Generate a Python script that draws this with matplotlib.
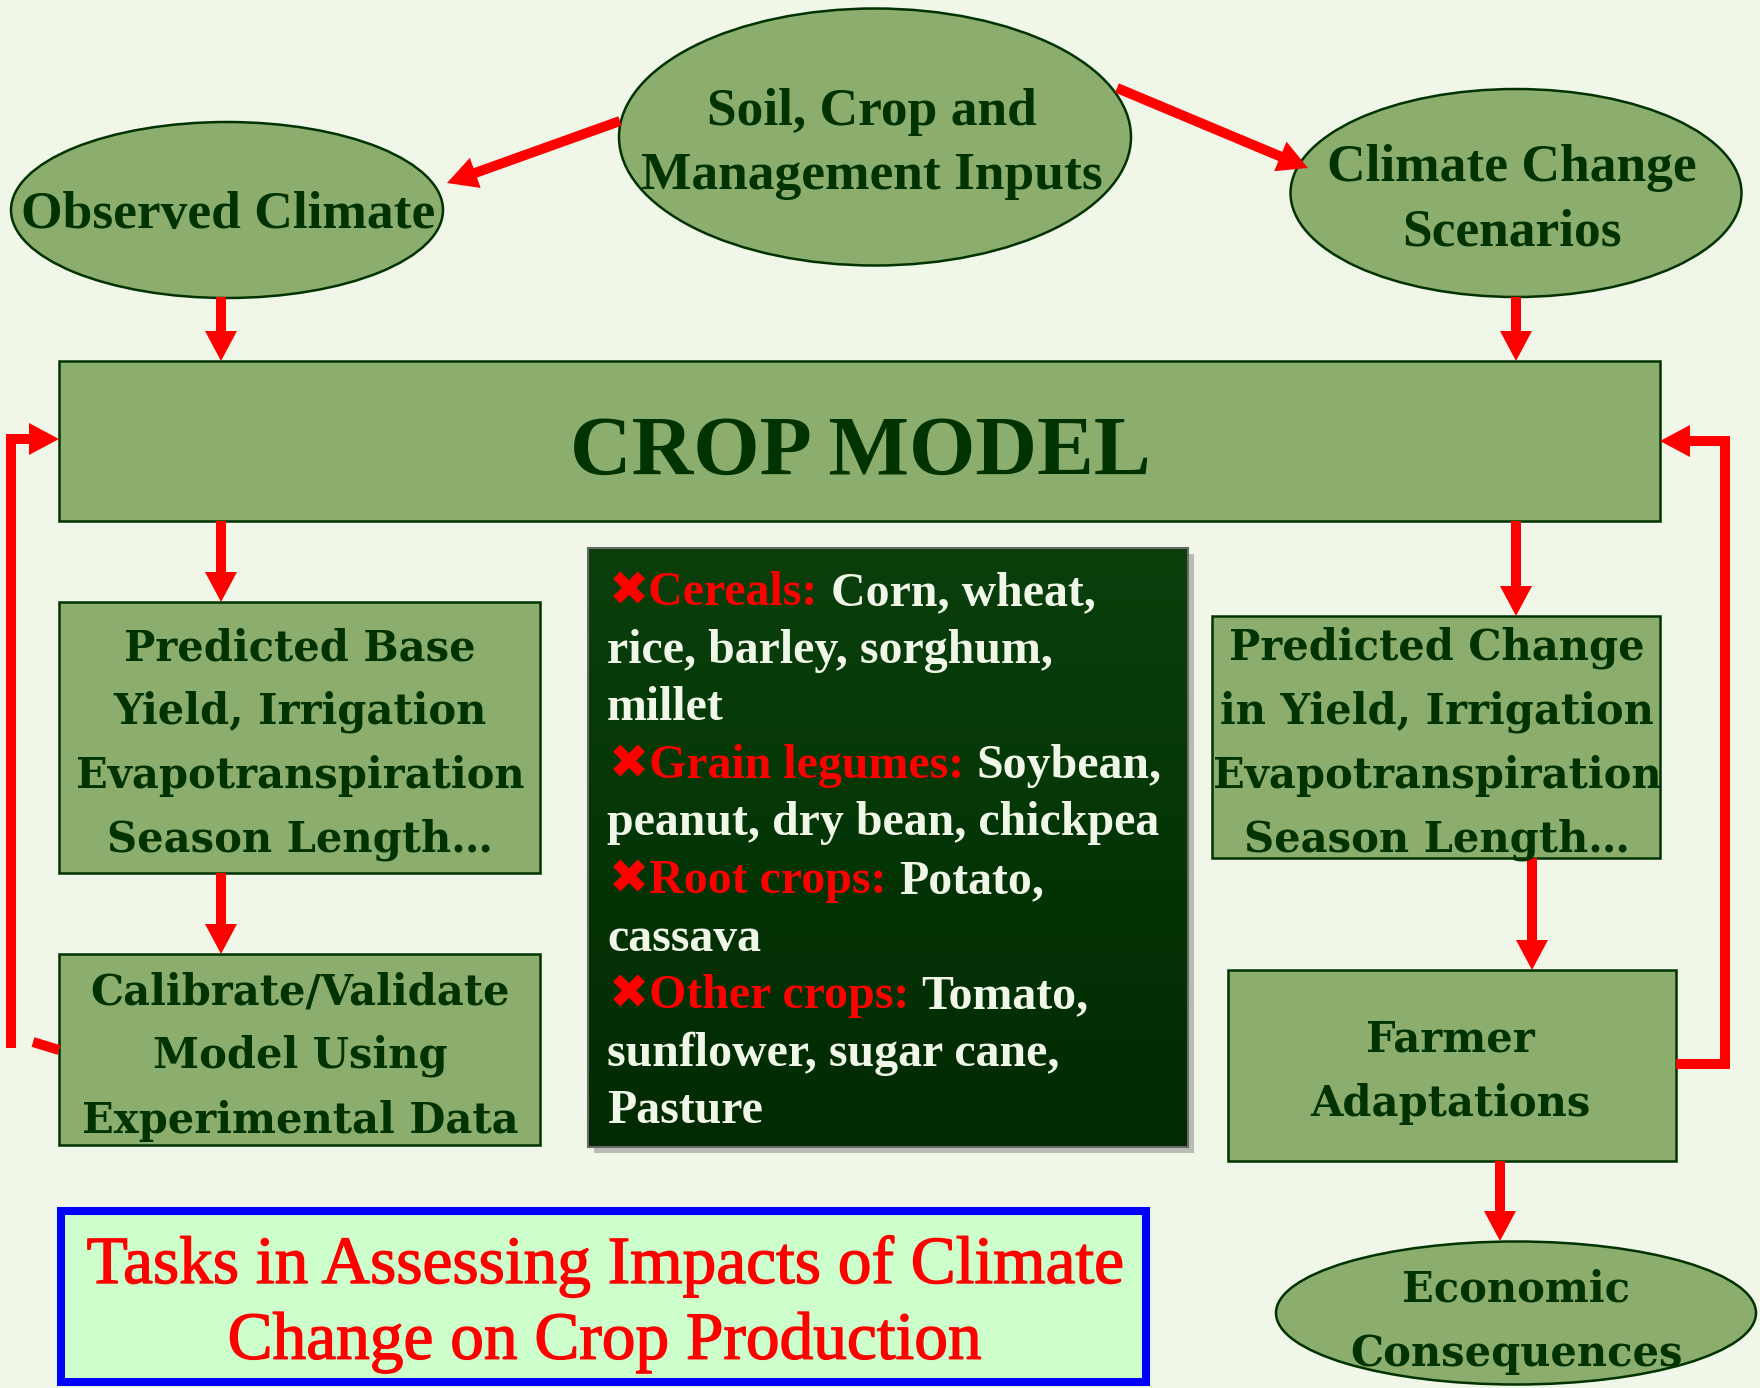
import matplotlib
matplotlib.use("Agg")
import matplotlib.patheffects as pe
import matplotlib.pyplot as plt
import numpy as np
from matplotlib.colors import LinearSegmentedColormap
from matplotlib.patches import Ellipse, Rectangle

# ── texts of the diagram ────────────────────────────────────────────────────
soil_lines = ["Soil, Crop and", "Management Inputs"]
observed_lines = ["Observed Climate"]
scenario_lines = ["Climate Change", "Scenarios"]
model_lines = ["CROP MODEL"]
base_lines = ["Predicted Base", "Yield, Irrigation", "Evapotranspiration",
              "Season Length\u2026"]
calib_lines = ["Calibrate/Validate", "Model Using", "Experimental Data"]
change_lines = ["Predicted Change", "in Yield, Irrigation", "Evapotranspiration",
                "Season Length\u2026"]
farmer_lines = ["Farmer", "Adaptations"]
econ_lines = ["Economic", "Consequences"]
title_lines = ["Tasks in Assessing Impacts of Climate", "Change on Crop Production"]

crop_groups = ["Cereals:", "Grain legumes:", "Root crops:", "Other crops:"]
crop_members = [
    ["Corn, wheat,", "rice, barley, sorghum,", "millet"],
    ["Soybean,", "peanut, dry bean, chickpea"],
    ["Potato,", "cassava"],
    ["Tomato,", "sunflower, sugar cane,", "Pasture"],
]

# ── colours ─────────────────────────────────────────────────────────────────
BG = "#f0f7e8"
NODE = "#8bad6d"
EDGE = "#003300"
TXT = "#003300"
RED = "#ff0000"
WHITE = "#f0f7e8"

W, H = 1760, 1388
fig = plt.figure(figsize=(W / 100, H / 100), dpi=100)
fig.patch.set_facecolor(BG)
ax = fig.add_axes([0, 0, 1, 1])
ax.set_facecolor(BG)
ax.axis("off")

TIMES = "Liberation Serif"
WIDE = "DejaVu Serif"


def put_lines(cx, ys, lines, dy=4, **kw):
    for y, s in zip(ys, lines):
        ax.text(cx, y + dy, s, ha="center", va="center", zorder=5, **kw)


def box(x0, y0, x1, y1):
    ax.add_patch(Rectangle((x0, y0), x1 - x0, y1 - y0, fc=NODE, ec=EDGE,
                           lw=1.8, zorder=3))


def oval(cx, cy, w, h):
    ax.add_patch(Ellipse((cx, cy), w, h, fc=NODE, ec=EDGE, lw=1.8, zorder=3))


def arrow(x0, y0, x1, y1):
    ax.arrow(x0, y0, x1 - x0, y1 - y0, width=10, head_width=32,
             head_length=30, length_includes_head=True, fc=RED, ec=RED,
             lw=0, zorder=4)


# ── top ovals ───────────────────────────────────────────────────────────────
oval(875, 137, 512, 257)
put_lines(872, [108, 172], soil_lines, family=TIMES, weight="bold",
          size=38.5, color=TXT)
oval(227, 210, 432, 176)
put_lines(228, [211], observed_lines, family=TIMES, weight="bold",
          size=38.5, color=TXT)
oval(1516, 193, 451, 208)
put_lines(1512, [164, 228], scenario_lines, family=TIMES, weight="bold",
          size=38.5, color=TXT)

# ── crop model ──────────────────────────────────────────────────────────────
box(59, 361, 1660, 521)
put_lines(860, [444], model_lines, dy=10, family=TIMES, weight="bold",
          size=61.5, color=TXT)

# ── left column ─────────────────────────────────────────────────────────────
box(59, 602, 540, 873)
put_lines(300, [644, 708, 772, 836], base_lines, family=WIDE,
          weight="bold", size=30, color=TXT)
box(59, 954, 540, 1145)
put_lines(300, [988, 1052, 1117], calib_lines, family=WIDE,
          weight="bold", size=30, color=TXT)

# ── right column ────────────────────────────────────────────────────────────
box(1212, 616, 1660, 858)
put_lines(1437, [644, 708, 772, 836], change_lines, family=WIDE,
          weight="bold", size=30, color=TXT)
box(1228, 970, 1676, 1161)
put_lines(1450, [1035, 1100], farmer_lines, family=WIDE,
          weight="bold", size=30, color=TXT)
oval(1516, 1313, 480, 143)
put_lines(1516, [1285, 1350], econ_lines, family=WIDE,
          weight="bold", size=30, color=TXT)

# ── crop list panel ─────────────────────────────────────────────────────────
ax.add_patch(Rectangle((594, 554), 600, 599, fc="#b9bcb4", ec="none",
                       zorder=1))
grad = np.linspace(0, 1, 256).reshape(-1, 1)
cmap = LinearSegmentedColormap.from_list(
    "panel", ["#0a3f0c", "#043506", "#022a02"])
ax.imshow(grad, extent=[588, 1188, 1147, 548], cmap=cmap, aspect="auto",
          zorder=2)
ax.add_patch(Rectangle((588, 548), 600, 599, fill=False, ec="#6a6a6a",
                       lw=1.5, zorder=3))

fam = [TIMES, "DejaVu Sans"]
y = 615
for group, members in zip(crop_groups, crop_members):
    head = ax.text(609, y, "\u2716" + group, ha="left", va="bottom",
                   family=fam, weight="bold", size=34.5, color=RED, zorder=5)
    ax.annotate(members[0], xy=(1, 0), xycoords=head, xytext=(9, 0),
                textcoords="offset points", ha="left", va="bottom",
                family=fam, weight="bold", size=34.5, color=WHITE, zorder=5)
    y += 57.6
    for m in members[1:]:
        ax.text(607, y, m, ha="left", va="bottom", family=fam,
                weight="bold", size=34.5, color=WHITE, zorder=5)
        y += 57.6

# ── title box ───────────────────────────────────────────────────────────────
ax.add_patch(Rectangle((61, 1211), 1085, 171, fc="#ccffcc", ec="#0000ff",
                       lw=5.8, zorder=3))
put_lines(605, [1262, 1338], title_lines, family=TIMES, size=48.5,
          color=RED,
          path_effects=[pe.withStroke(linewidth=1.0, foreground=RED)])

# ── arrows ──────────────────────────────────────────────────────────────────
arrow(620, 121, 447, 183)
arrow(1117, 88, 1308, 168)
arrow(221, 297, 221, 361)
arrow(1516, 297, 1516, 361)
arrow(221, 521, 221, 602)
arrow(221, 873, 221, 954)
arrow(1516, 521, 1516, 616)
arrow(1532, 858, 1532, 970)
arrow(1500, 1161, 1500, 1241)

# feedback loops
ax.plot([59, 33], [1050, 1042], color=RED, lw=7.2, solid_capstyle="butt",
        zorder=4)
ax.plot([11, 11, 32], [1048, 439, 439], color=RED, lw=7.2,
        solid_joinstyle="miter", solid_capstyle="butt", zorder=4)
arrow(28, 439, 59, 439)
ax.plot([1676, 1725, 1725, 1700], [1064, 1064, 441, 441], color=RED,
        lw=7.2, solid_joinstyle="miter", solid_capstyle="butt", zorder=4)
arrow(1705, 441, 1660, 441)

ax.set_xlim(0, W)
ax.set_ylim(H, 0)
fig.savefig("out.png", dpi=100, facecolor=BG)
